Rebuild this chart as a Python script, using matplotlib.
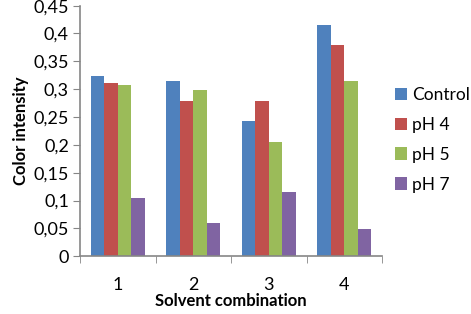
import numpy as np
import matplotlib
matplotlib.use("Agg")
import matplotlib.pyplot as plt
from matplotlib.ticker import FuncFormatter, MultipleLocator

plt.rcParams['font.family'] = ['Lato', 'DejaVu Sans']

groups = ["1", "2", "3", "4"]
series = ["Control", "pH 4", "pH 5", "pH 7"]
control = [0.324, 0.315, 0.243, 0.415]
ph4 = [0.311, 0.279, 0.279, 0.379]
ph5 = [0.308, 0.298, 0.206, 0.314]
ph7 = [0.105, 0.059, 0.116, 0.048]
colors = ["#4F81BD", "#C0504D", "#9BBB59", "#8064A2"]

fig = plt.figure(figsize=(4.71, 3.14), dpi=100)
ax = fig.add_axes([0.170, 0.184, 0.641, 0.798])

x = np.arange(len(groups))
w = 0.18
for i, (vals, name) in enumerate(zip([control, ph4, ph5, ph7], series)):
    ax.bar(x + (i - 1.5) * w, vals, w, color=colors[i], label=name)

ax.set_xlim(-0.5, len(groups) - 0.5)
ax.set_ylim(0, 0.45)
ax.yaxis.set_major_locator(MultipleLocator(0.05))
ax.yaxis.set_major_formatter(FuncFormatter(lambda v, p: ("%g" % round(v, 2)).replace(".", ",")))

ax.set_xticks(x)
ax.set_xticklabels(groups)
ax.set_xticks(np.arange(len(groups) + 1) - 0.5, minor=True)
ax.tick_params(axis='x', which='major', length=0, pad=15, labelsize=13)
ax.tick_params(axis='x', which='minor', length=5, color='#868686', direction='out')
ax.tick_params(axis='y', length=5, color='#868686', direction='out', labelsize=13, pad=3)

for s in ['top', 'right']:
    ax.spines[s].set_visible(False)
for s in ['left', 'bottom']:
    ax.spines[s].set_color('#868686')
    ax.spines[s].set_linewidth(1.2)

ax.set_xlabel("Solvent combination", fontsize=12, fontweight='bold', labelpad=0)
ax.set_ylabel("Color intensity", fontsize=12, fontweight='bold', labelpad=3)

ax.legend(loc='center left', bbox_to_anchor=(0.99, 0.465), frameon=False,
          fontsize=12.5, handlelength=0.7, handleheight=0.7, handletextpad=0.3,
          labelspacing=0.8)

fig.savefig("out.png", dpi=100)
